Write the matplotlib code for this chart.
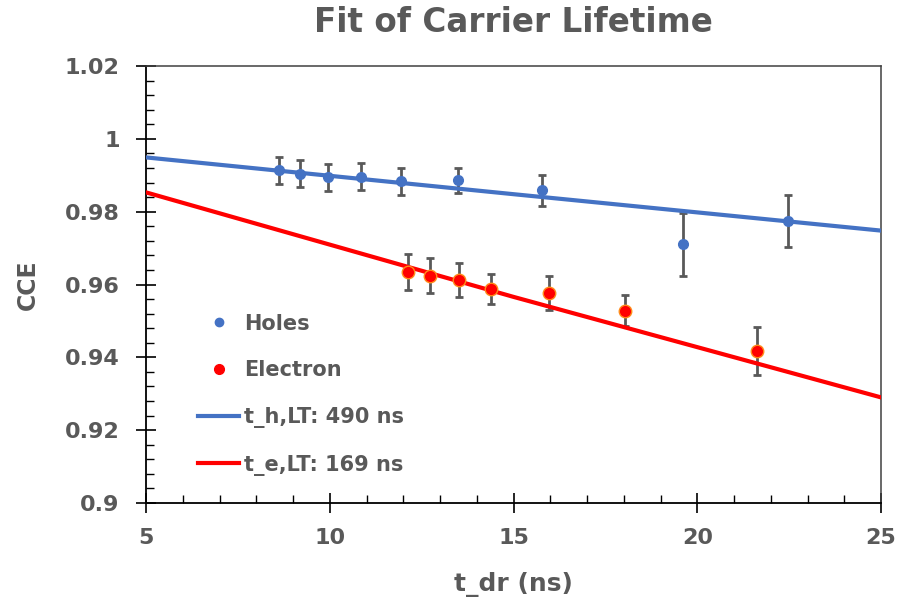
import matplotlib
matplotlib.use("Agg")
import matplotlib.pyplot as plt
from matplotlib.lines import Line2D
from matplotlib.ticker import MultipleLocator, FuncFormatter

plt.rcParams['font.family'] = ['DejaVu Sans']
plt.rcParams['font.weight'] = 'bold'

# data
holes_t = [8.63, 9.20, 9.96, 10.86, 11.93, 13.50, 15.77, 19.62, 22.48]
holes_cce = [0.9914, 0.9904, 0.9894, 0.9896, 0.9884, 0.9886, 0.9859, 0.9710, 0.9774]
holes_err = [0.0037, 0.0037, 0.0037, 0.0037, 0.0037, 0.0035, 0.0043, 0.0086, 0.0071]

elec_t = [12.14, 12.73, 13.52, 14.39, 15.96, 18.03, 21.63]
elec_cce = [0.9635, 0.9624, 0.9612, 0.9587, 0.9577, 0.9528, 0.9417]
elec_err = [0.0050, 0.0048, 0.0047, 0.0041, 0.0047, 0.0043, 0.0065]

# fit lines, read at x = 5, 15, 25
fit_t = [5, 15, 25]
fit_holes = [0.9949, 0.9848, 0.9748]
fit_elec = [0.9853, 0.9566, 0.9290]

blue = '#4472C4'
red = '#FF0000'
grey = '#595959'

fig = plt.figure(figsize=(8.99, 6.15), dpi=100)
ax = fig.add_axes([146/899, 1 - 503/615, (881-146)/899, (503-66)/615])

ax.errorbar(holes_t, holes_cce, yerr=holes_err, fmt='none', ecolor=grey,
            elinewidth=2, capsize=3, capthick=2, zorder=2)
ax.errorbar(elec_t, elec_cce, yerr=elec_err, fmt='none', ecolor=grey,
            elinewidth=2, capsize=3, capthick=2, zorder=2)

ax.plot(fit_t, fit_holes, color=blue, lw=3, zorder=3)
ax.plot(fit_t, fit_elec, color=red, lw=3, zorder=3)

ax.plot(holes_t, holes_cce, 'o', color=blue, ms=7, zorder=4)
ax.plot(elec_t, elec_cce, 'o', color=red, mec='#FF8C1A', mew=1, ms=9, zorder=4)

ax.set_xlim(5, 25)
ax.set_ylim(0.9, 1.02)
ax.xaxis.set_major_locator(MultipleLocator(5))
ax.xaxis.set_minor_locator(MultipleLocator(1))
ax.yaxis.set_major_locator(MultipleLocator(0.02))
ax.yaxis.set_minor_locator(MultipleLocator(0.004))
ax.yaxis.set_major_formatter(FuncFormatter(lambda v, p: ('%.2f' % v).rstrip('0').rstrip('.')))

ax.tick_params(which='major', direction='inout', length=14, width=1.2,
               labelsize=16, labelcolor=grey, color='black')
ax.tick_params(which='minor', direction='in', length=6, width=1.0, color='black')
ax.tick_params(axis='y', which='major', pad=12)
ax.tick_params(axis='x', which='major', pad=11)

for s in ['left', 'bottom']:
    ax.spines[s].set_color('black')
    ax.spines[s].set_linewidth(1.3)
for s in ['top', 'right']:
    ax.spines[s].set_color('#404040')
    ax.spines[s].set_linewidth(1.1)

for lab in ax.get_xticklabels() + ax.get_yticklabels():
    lab.set_fontweight('bold')

ax.set_xlabel('t_dr (ns)', fontsize=18, color=grey, fontweight='bold')
ax.set_ylabel('CCE', fontsize=17, color=grey, fontweight='bold')
ax.xaxis.set_label_coords(0.5, -0.158)
ax.yaxis.set_label_coords(-0.145, 0.5)
fig.text((146+881)/2/899, 1 - 23/615, 'Fit of Carrier Lifetime', ha='center', va='center',
         fontsize=23.5, color=grey, fontweight='bold')

handles = [
    Line2D([], [], ls='none', marker='o', color=blue, ms=6),
    Line2D([], [], ls='none', marker='o', color=red, ms=7),
    Line2D([], [], color=blue, lw=3),
    Line2D([], [], color=red, lw=3),
]
labels = ['Holes', 'Electron', 't_h,LT: 490 ns', 't_e,LT: 169 ns']
leg = ax.legend(handles, labels, loc='lower left', bbox_to_anchor=(0.045, 0.02),
                frameon=False, fontsize=15, labelspacing=1.28, handlelength=2.0,
                handletextpad=0.2)
for t in leg.get_texts():
    t.set_color(grey)
    t.set_fontweight('bold')

fig.savefig('out.png', dpi=100)
